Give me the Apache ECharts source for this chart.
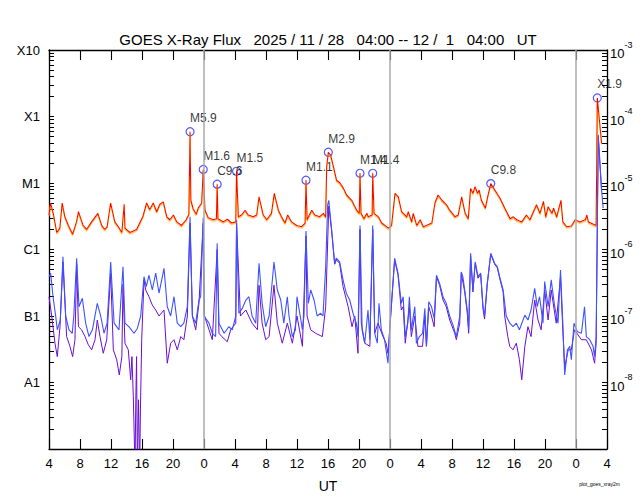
<!DOCTYPE html>
<html><head><meta charset="utf-8">
<script src="https://cdn.jsdelivr.net/npm/echarts@6/dist/echarts.min.js"></script>
<style>html,body{margin:0;padding:0;background:#fff}#c{width:640px;height:500px}</style>
</head><body><div id="c"></div><script>
// hours since 2025-11-28 04:00 UT, flux W/m^2
const longXray = [[0,3.3e-6],[0.2,5.0e-6],[0.55,3.5e-6],[1.0,1.8e-6],[1.4,2.1e-6],[1.7,5.0e-6],[2.05,3.1e-6],[2.5,2.3e-6],[3.05,1.7e-6],[3.55,2.6e-6],[3.8,3.7e-6],[4.4,2.3e-6],[4.85,2.0e-6],[5.5,2.6e-6],[6.3,3.5e-6],[6.8,2.3e-6],[7.2,2.0e-6],[7.5,2.2e-6],[7.95,5.0e-6],[8.5,2.6e-6],[8.95,2.2e-6],[9.4,1.8e-6],[9.7,4.8e-6],[9.8,2.1e-6],[10.45,1.8e-6],[11.3,2.0e-6],[12.1,3.1e-6],[12.6,5.0e-6],[13.0,4.0e-6],[13.45,5.0e-6],[13.9,3.7e-6],[14.3,4.8e-6],[14.75,5.2e-6],[15.2,3.1e-6],[15.6,2.8e-6],[16.05,3.3e-6],[16.5,2.6e-6],[17.1,2.3e-6],[17.7,2.8e-6],[18.05,3.4e-6],[18.2,5.9e-5],[18.3,5.5e-6],[18.6,4.1e-6],[19.0,3.4e-6],[19.26,4.2e-6],[19.7,5.0e-6],[19.9,1.6e-5],[20.13,3.9e-6],[20.55,3.0e-6],[21.2,2.8e-6],[21.6,2.9e-6],[21.7,9.6e-6],[21.8,2.9e-6],[22.5,2.6e-6],[23.0,2.85e-6],[23.57,2.5e-6],[24.1,2.6e-6],[24.2,1.5e-5],[24.43,3.1e-6],[24.86,3.3e-6],[25.3,3.9e-6],[25.7,3.3e-6],[26.36,3.1e-6],[26.8,3.3e-6],[27.1,6.2e-6],[27.65,3.3e-6],[28.1,2.8e-6],[28.7,3.5e-6],[29.07,7.0e-6],[29.6,3.9e-6],[30.0,3.1e-6],[30.45,2.5e-6],[30.8,3.3e-6],[31.3,2.6e-6],[31.96,2.3e-6],[32.6,2.2e-6],[33.05,2.5e-6],[33.16,1.1e-5],[33.3,2.8e-6],[33.9,3.9e-6],[34.3,3.3e-6],[34.9,3.1e-6],[35.4,3.5e-6],[35.7,3.1e-6],[35.83,1.76e-5],[36.04,2.9e-5],[36.35,2.6e-5],[36.7,1.76e-5],[37.1,1.1e-5],[37.55,1.0e-5],[38.0,8.3e-6],[38.4,6.6e-6],[39.06,5.5e-6],[39.7,3.9e-6],[40.04,3.5e-6],[40.13,1.4e-5],[40.26,3.5e-6],[40.65,2.9e-6],[41.0,3.5e-6],[41.2,3.1e-6],[41.7,3.3e-6],[41.77,1.4e-5],[41.94,3.5e-6],[42.5,3.1e-6],[42.93,2.5e-6],[43.8,2.1e-6],[44.2,2.3e-6],[44.65,7.0e-6],[45.07,6.2e-6],[45.5,3.7e-6],[46.15,3.1e-6],[46.36,3.7e-6],[46.8,2.6e-6],[47.0,3.5e-6],[47.45,2.3e-6],[47.9,2.8e-6],[48.3,2.2e-6],[48.7,2.3e-6],[49.4,2.5e-6],[49.8,5.0e-6],[50.2,6.6e-6],[50.7,5.5e-6],[51.3,4.7e-6],[51.7,3.9e-6],[52.4,3.1e-6],[52.8,3.3e-6],[53.25,6.2e-6],[53.7,3.5e-6],[54.1,2.9e-6],[54.4,8.3e-6],[54.7,7.0e-6],[54.97,8.8e-6],[55.3,7.0e-6],[55.5,7.8e-6],[55.8,5.5e-6],[56.3,4.2e-6],[56.6,6.2e-6],[57.0,9.8e-6],[57.55,7.8e-6],[58.2,5.9e-6],[58.8,4.2e-6],[59.5,2.9e-6],[59.9,3.1e-6],[60.35,2.8e-6],[61.0,2.6e-6],[61.6,3.3e-6],[62.06,2.8e-6],[62.5,3.7e-6],[62.9,4.7e-6],[63.35,3.5e-6],[63.8,5.3e-6],[64.1,3.1e-6],[64.4,4.4e-6],[64.9,3.5e-6],[65.1,4.2e-6],[65.5,3.1e-6],[66.06,5.5e-6],[66.3,2.6e-6],[66.8,2.2e-6],[67.4,2.25e-6],[67.9,2.8e-6],[68.5,2.6e-6],[69.2,2.8e-6],[69.4,3.3e-6],[69.6,2.6e-6],[70.6,2.3e-6],[70.75,1.9e-4],[71.3,4.0e-5]];

const shortXray = [[0,3.9e-7],[0.22,4.4e-7],[0.52,1.95e-7],[0.86,1.0e-7],[1.07,6.2e-8],[1.46,8.7e-8],[1.8,7.8e-7],[2.15,1.0e-7],[2.58,6.2e-8],[3.0,5.5e-8],[3.2,1.0e-7],[3.57,7.4e-7],[3.87,1.38e-7],[4.3,1.85e-7],[4.73,7.8e-8],[5.16,4.9e-8],[5.6,6.2e-8],[6.23,1.55e-7],[6.67,1.0e-7],[7.1,5.5e-8],[7.5,7.8e-8],[7.96,6.5e-7],[8.4,7.8e-8],[9.03,6.2e-8],[9.55,5.5e-7],[9.8,7.8e-8],[10.3,6.9e-8],[10.97,5.5e-8],[11.4,6.5e-8],[11.83,1.0e-7],[12.26,3.9e-7],[12.55,2.76e-7],[12.9,4.1e-7],[13.33,2.46e-7],[13.77,4.4e-7],[14.2,2.2e-7],[14.84,5.2e-7],[15.26,1.38e-7],[15.7,1.0e-7],[16.13,1.95e-7],[16.55,7.8e-8],[17.0,6.9e-8],[17.4,7.8e-8],[17.85,1.38e-7],[18.2,3.1e-6],[18.5,1.0e-7],[18.93,7.8e-8],[19.35,1.74e-7],[19.57,1.95e-7],[19.9,3.0e-6],[20.0,1.0e-7],[20.65,7.8e-8],[21.07,5.5e-8],[21.5,4.9e-8],[21.7,1.24e-6],[21.93,7.8e-8],[22.6,5.5e-8],[23.2,6.9e-8],[23.65,6.2e-8],[24.1,1.0e-7],[24.2,2.8e-6],[24.5,1.1e-7],[24.94,1.3e-7],[25.4,1.74e-7],[25.8,1.95e-7],[26.2,1.0e-7],[26.67,7.8e-8],[27.1,6.2e-7],[27.5,1.55e-7],[27.96,6.9e-8],[28.4,1.0e-7],[29.03,6.5e-7],[29.46,2.46e-7],[29.9,1.74e-7],[30.3,7.8e-8],[30.75,1.95e-7],[30.97,1.0e-7],[31.4,4.9e-8],[31.8,6.2e-8],[32.0,1.95e-7],[32.5,8.7e-8],[32.7,6.2e-8],[32.9,1.0e-7],[33.16,1.9e-6],[33.46,1.55e-7],[33.77,2.46e-7],[34.2,1.74e-7],[34.6,1.0e-7],[35.05,1.1e-7],[35.35,1.0e-7],[35.7,5.5e-7],[35.96,4.7e-6],[36.1,5.5e-6],[36.45,2.1e-6],[36.86,6.2e-7],[37.07,7.4e-7],[37.5,6.5e-7],[37.94,3.5e-7],[38.36,2.2e-7],[38.8,1.74e-7],[39.23,1.1e-7],[39.65,7.8e-8],[39.87,4.9e-8],[40.13,2.3e-6],[40.4,6.2e-8],[40.74,3.9e-8],[41.16,1.23e-7],[41.4,4.4e-8],[41.77,2.3e-6],[42.03,5.5e-8],[42.36,3.9e-8],[42.58,1.55e-7],[42.88,6.2e-8],[43.3,4.4e-8],[43.74,1.95e-8],[43.96,6.2e-8],[44.6,7.4e-7],[45.03,4.4e-7],[45.46,1.55e-7],[45.7,1.95e-7],[45.97,4.9e-8],[46.3,7.8e-8],[46.5,1.95e-7],[46.75,6.2e-8],[47.2,1.38e-7],[47.4,3.9e-8],[47.8,4.9e-8],[48.2,5.5e-8],[48.5,1.3e-7],[48.7,3.5e-8],[49.0,1.64e-7],[49.35,1.38e-7],[49.7,9.2e-8],[50.0,4.1e-7],[50.4,3.1e-7],[50.84,1.95e-7],[51.26,1.55e-7],[51.7,1.0e-7],[52.13,7.3e-8],[52.56,4.9e-8],[53.0,1.0e-7],[53.2,4.6e-7],[53.4,3.9e-7],[53.64,2.46e-7],[53.97,1.23e-7],[54.15,6.2e-8],[54.4,8.8e-7],[54.7,2.46e-7],[55.0,6.5e-7],[55.35,3.9e-7],[55.7,4.4e-7],[56.0,1.38e-7],[56.2,1.0e-7],[56.55,3.1e-7],[57.0,8.8e-7],[57.5,6.2e-7],[57.85,5.5e-7],[58.15,3.9e-7],[58.6,2.46e-7],[59.0,1.0e-7],[59.45,7.8e-8],[59.87,6.9e-8],[60.3,7.8e-8],[60.7,6.2e-8],[61.4,1.03e-7],[61.8,8.7e-8],[62.2,1.23e-7],[62.67,2.6e-7],[63.0,1.38e-7],[63.3,1.95e-7],[63.74,7.8e-8],[63.96,3.3e-7],[64.4,1.38e-7],[64.8,3.5e-7],[65.25,1.38e-7],[65.68,7.8e-8],[66.0,4.9e-7],[66.3,7.8e-8],[66.54,1.3e-8],[66.9,3.1e-8],[67.2,3.5e-8],[67.4,2.2e-8],[67.74,7.8e-8],[68.17,5.8e-8],[68.7,5.5e-8],[69.1,1.38e-7],[69.33,4.9e-8],[69.77,4.4e-8],[70.2,3.5e-8],[70.4,2.45e-8],[70.6,4.9e-8],[70.87,5.3e-5],[71.3,7.9e-6],[71.5,4.2e-6]];

const shortXray2 = [[0,1.95e-7],[0.35,1.0e-7],[0.77,3.9e-8],[1.07,2.45e-8],[1.42,6.9e-8],[1.8,6.5e-7],[2.28,4.9e-8],[2.7,3.5e-8],[3.05,2.45e-8],[3.35,4.4e-8],[3.57,6.0e-7],[3.8,6.9e-8],[4.2,6.2e-8],[4.65,4.9e-8],[5.07,3.7e-8],[5.5,3.1e-8],[5.94,4.4e-8],[6.23,8.7e-8],[6.58,4.9e-8],[7.0,2.75e-8],[7.45,4.4e-8],[7.96,4.4e-7],[8.3,3.1e-8],[8.74,2.2e-8],[9.07,1.3e-8],[9.4,2.45e-8],[9.55,3.0e-7],[9.8,3.9e-8],[10.23,3.1e-8],[10.54,1.1e-8],[10.7,2.45e-8],[10.88,6.1e-9],[11.1,5e-10],[11.2,5.5e-9],[11.3,2.45e-8],[11.4,5e-10],[11.55,5.5e-9],[11.7,5e-10],[11.8,4e-9],[11.96,4.4e-8],[12.26,3.5e-7],[12.48,2.46e-7],[12.9,1.95e-7],[13.33,1.46e-7],[13.77,1.23e-7],[14.2,1.0e-7],[14.84,1.23e-7],[15.26,1.95e-8],[15.7,3.9e-8],[16.13,4.4e-8],[16.55,3.1e-8],[17.0,4.9e-8],[17.4,4.4e-8],[17.85,1.0e-7],[18.2,2.5e-6],[18.5,1.0e-7],[18.93,6.2e-8],[19.35,1.55e-7],[19.9,2.5e-6],[20.07,1.0e-7],[20.65,6.2e-8],[21.07,4.4e-8],[21.7,1.0e-6],[21.93,5.5e-8],[22.3,4.9e-8],[23.0,4.1e-8],[23.44,6.2e-8],[24.1,7.8e-8],[24.2,2.5e-6],[24.7,1.0e-7],[25.4,1.23e-7],[26.2,7.8e-8],[26.9,6.2e-8],[27.1,2.9e-7],[27.5,7.8e-8],[27.96,4.4e-8],[28.4,4.9e-8],[29.03,2.9e-7],[29.46,7.8e-8],[30.1,3.9e-8],[30.75,7.8e-8],[31.4,3.9e-8],[32.0,1.0e-7],[32.7,3.5e-8],[33.16,1.6e-6],[33.3,1.0e-7],[33.77,6.2e-8],[34.4,5.5e-8],[35.27,4.9e-8],[35.7,1.38e-7],[36.1,4.5e-6],[36.45,2.0e-6],[36.86,6.0e-7],[37.07,7.0e-7],[37.5,6.2e-7],[37.94,2.76e-7],[38.6,1.38e-7],[39.1,6.9e-8],[39.45,1.0e-7],[39.87,2.75e-8],[40.13,2.0e-6],[40.3,7.8e-8],[40.74,3.9e-8],[41.4,3.5e-8],[41.77,2.0e-6],[42.03,5.5e-8],[42.45,7.8e-8],[43.1,4.9e-8],[43.5,3.9e-8],[43.74,2.75e-8],[43.96,6.2e-8],[44.6,7.0e-7],[45.03,4.2e-7],[45.46,1.23e-7],[45.7,1.38e-7],[45.97,3.9e-8],[46.5,1.38e-7],[46.75,4.9e-8],[47.2,1.0e-7],[47.6,3.5e-8],[48.2,3.5e-8],[48.5,1.0e-7],[48.7,3.5e-8],[49.0,1.38e-7],[49.35,1.0e-7],[49.7,6.9e-8],[50.0,3.9e-7],[50.4,2.9e-7],[50.84,1.74e-7],[51.26,1.38e-7],[51.7,8.7e-8],[52.35,5.5e-8],[52.56,4.4e-8],[53.0,7.8e-8],[53.2,4.4e-7],[53.64,2.3e-7],[53.97,1.1e-7],[54.15,5.5e-8],[54.4,8.0e-7],[54.7,2.3e-7],[55.0,6.2e-7],[55.35,3.7e-7],[55.7,4.2e-7],[56.0,1.3e-7],[56.2,9.0e-8],[56.55,3.0e-7],[57.0,8.5e-7],[57.5,6.0e-7],[57.85,5.3e-7],[58.15,3.7e-7],[58.6,2.3e-7],[58.8,1.0e-7],[59.2,4.9e-8],[59.45,3.5e-8],[59.87,3.1e-8],[60.3,3.9e-8],[60.7,2.2e-8],[61.0,1.1e-8],[61.4,3.5e-8],[61.8,6.9e-8],[62.2,4.9e-8],[62.67,1.74e-7],[63.1,8.7e-8],[63.5,6.2e-8],[63.96,2.46e-7],[64.4,8.7e-8],[64.8,2.46e-7],[65.45,7.8e-8],[66.0,3.9e-7],[66.3,6.2e-8],[66.54,1.7e-8],[67.0,3.1e-8],[67.4,3.1e-8],[67.8,6.2e-8],[68.7,4.4e-8],[69.33,4.4e-8],[70.0,3.1e-8],[70.4,1.95e-8],[70.6,3.9e-8],[70.87,5.0e-5],[71.3,7.5e-6]];

const flareHours = [18.2, 19.9, 21.7, 24.2, 33.16, 36.04, 40.13, 41.77, 57.0, 70.75];
const flareFlux  = [5.9e-5, 1.6e-5, 9.6e-6, 1.5e-5, 1.1e-5, 2.9e-5, 1.4e-5, 1.4e-5, 9.8e-6, 1.9e-4];
const flareNames = ['M5.9','M1.6','C9.6','M1.5','M1.1','M2.9','M1.4','M1.4','C9.8','X1.9'];

const xTickLabels = ['4','8','12','16','20','0','4','8','12','16','20','0','4','8','12','16','20','0','4'];
const decadeExps = [-3, -4, -5, -6, -7, -8];
const leftLabels = ['X10','X1','M1','C1','B1','A1'];
const rightLabels = ['-3','-4','-5','-6','-7','-8'];
const classLevels = [1e-4, 1e-5, 1e-6, 1e-7, 1e-8];
const dayStarts = [20, 44, 68];

const FONT = 'Liberation Sans';
function logTicks() {
  const t = [];
  for (let e = -9; e <= -4; e++) for (let m = 1; m <= 9; m++) t.push(m * Math.pow(10, e));
  t.push(1e-3);
  return t;
}
function decIndex(v) { return decadeExps.indexOf(Math.round(Math.log10(v))); }

function xAxisOpt(pos) {
  return {type: 'value', min: 0, max: 72, interval: 4, position: pos,
    axisLine: {show: true, onZero: false, lineStyle: {color: '#000', width: 1.3}},
    axisTick: {show: true, inside: true, length: 10, lineStyle: {color: '#000', width: 1.1}},
    splitLine: {show: false}};
}
function yAxisOpt(pos) {
  return {type: 'log', logBase: 10, min: 1e-9, max: 1e-3, position: pos,
    axisLine: {show: true, onZero: false, lineStyle: {color: '#000', width: 1.3}},
    axisTick: {show: true, inside: true, length: 5, customValues: logTicks(), lineStyle: {color: '#000', width: 1}},
    splitLine: {show: false}};
}
const xB = xAxisOpt('bottom');
xB.name = 'UT'; xB.nameLocation = 'middle'; xB.nameGap = 30;
xB.nameTextStyle = {fontFamily: FONT, fontSize: 14, color: '#000'};
xB.axisLabel = {show: true, margin: 8, fontFamily: FONT, fontSize: 13, color: '#000',
  formatter: v => xTickLabels[Math.round(v / 4)]};
const xT = xAxisOpt('top');
xT.axisLabel = {show: false};
const yL = yAxisOpt('left');
yL.axisLabel = {show: true, margin: 9, fontFamily: FONT, fontSize: 13, color: '#000',
  formatter: v => { const i = decIndex(v); return i < 0 ? '' : leftLabels[i]; }};
const yR = yAxisOpt('right');
yR.axisLabel = {show: true, margin: 3, fontFamily: FONT, color: '#000',
  formatter: v => { const i = decIndex(v); return i < 0 ? '' : '{b|10}{s|' + rightLabels[i] + '}'; },
  rich: {
    b: {fontFamily: FONT, fontSize: 13, color: '#000', lineHeight: 20, verticalAlign: 'bottom'},
    s: {fontFamily: FONT, fontSize: 9, color: '#000', lineHeight: 20, verticalAlign: 'top'}
  }};

const chart = echarts.init(document.getElementById('c'), null, {renderer: 'svg'});
chart.setOption({
  animation: false,
  title: [
    {text: 'GOES X-Ray Flux   2025 / 11 / 28   04:00 -- 12 /  1   04:00   UT', left: 328, top: 32, textAlign: 'center', padding: 0,
      textStyle: {fontFamily: FONT, fontSize: 15, fontWeight: 'normal', color: '#000'}},
    {text: 'plot_goes_xray2m', right: 20, top: 481, padding: 0,
      textStyle: {fontFamily: FONT, fontSize: 5, fontWeight: 'normal', color: '#000'}}
  ],
  grid: {left: 49, right: 33, top: 50, bottom: 51, containLabel: false},
  xAxis: [xB, xT],
  yAxis: [yL, yR],
  series: [
    {type: 'line', data: shortXray2, symbol: 'none', clip: true,
      lineStyle: {color: '#6a0ed6', width: 1},
      markLine: {silent: true, symbol: ['none', 'none'], label: {show: false},
        data: classLevels.map(v => ({yAxis: v, lineStyle: {color: v === 1e-6 ? '#a9d8f7' : '#5cb3ef', width: v === 1e-6 ? 2.2 : 1.2, type: 'solid'}}))
          .concat(dayStarts.map(h => ({xAxis: h, lineStyle: {color: '#aaaaaa', width: 1.5, type: 'solid'}})))}},
    {type: 'line', data: shortXray, symbol: 'none', clip: true,
      lineStyle: {color: '#3d52ff', width: 1.1}},
    {type: 'line', data: longXray, symbol: 'none', clip: true,
      lineStyle: {color: '#ff0000', width: 1.1, shadowColor: 'rgba(255,150,0,0.9)', shadowBlur: 0, shadowOffsetY: 1.3}},
    {type: 'scatter',
      data: flareHours.map((h, i) => ({value: [h, flareFlux[i]], name: flareNames[i]})),
      symbol: 'circle', symbolSize: 8,
      itemStyle: {color: 'rgba(255,255,255,0)', borderColor: '#2a2aff', borderWidth: 1.2},
      label: {show: true, position: 'top', align: 'left', distance: 3, formatter: p => p.name,
        fontFamily: FONT, fontSize: 12, color: '#000'}}
  ]
});
</script></body></html>
